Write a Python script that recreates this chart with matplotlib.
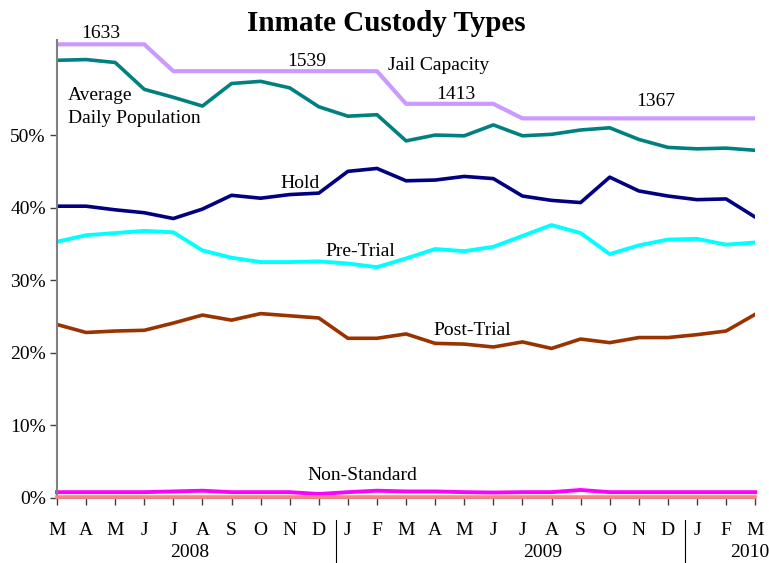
import numpy as np
import matplotlib.pyplot as plt
import matplotlib.transforms as mtransforms

plt.rcParams['font.family'] = ['Liberation Serif', 'DejaVu Serif']

months = ['M', 'A', 'M', 'J', 'J', 'A', 'S', 'O', 'N', 'D',
          'J', 'F', 'M', 'A', 'M', 'J', 'J', 'A', 'S', 'O', 'N', 'D',
          'J', 'F', 'M']
years = ['2008', '2009', '2010']
year_pos = [4.57, 16.7, 23.83]
year_breaks = [9.6, 21.6]

# jail capacity, scaled to the % axis
capacity = [62.5, 62.5, 62.5, 62.5, 58.8, 58.8, 58.8, 58.8, 58.8, 58.8, 58.8, 58.8,
            54.3, 54.3, 54.3, 54.3, 52.3, 52.3, 52.3, 52.3, 52.3, 52.3, 52.3, 52.3, 52.3]
capacity_labels = ['1633', '1539', '1413', '1367']
adp = [60.3, 60.4, 60.0, 56.3, 55.2, 54.0, 57.1, 57.4, 56.5, 53.9, 52.6, 52.8,
       49.2, 50.0, 49.9, 51.4, 49.9, 50.1, 50.7, 51.0, 49.4, 48.3, 48.1, 48.2, 47.9]
hold = [40.2, 40.2, 39.7, 39.3, 38.5, 39.8, 41.7, 41.3, 41.8, 42.0, 45.0, 45.4,
        43.7, 43.8, 44.3, 44.0, 41.6, 41.0, 40.7, 44.2, 42.3, 41.6, 41.1, 41.2, 38.7]
pre_trial = [35.3, 36.2, 36.5, 36.8, 36.6, 34.1, 33.1, 32.5, 32.5, 32.6, 32.3, 31.8,
             33.0, 34.3, 34.0, 34.6, 36.1, 37.6, 36.5, 33.6, 34.8, 35.6, 35.7, 34.9, 35.2]
post_trial = [23.9, 22.8, 23.0, 23.1, 24.1, 25.2, 24.5, 25.4, 25.1, 24.8, 22.0, 22.0,
              22.6, 21.3, 21.2, 20.8, 21.5, 20.6, 21.9, 21.4, 22.1, 22.1, 22.5, 23.0, 25.3]
non_standard = [0.8, 0.8, 0.8, 0.8, 0.9, 1.0, 0.8, 0.8, 0.8, 0.55, 0.8, 1.0,
                0.9, 0.9, 0.8, 0.75, 0.8, 0.8, 1.1, 0.8, 0.8, 0.8, 0.8, 0.8, 0.8]
other = [0.15] * 25

x = np.arange(len(months))

fig = plt.figure(figsize=(7.69, 5.63), dpi=100)
ax = fig.add_axes([0.0741, 0.1155, 0.9079, 0.8135])

ax.plot(x, other, color='#FF8080', lw=2.6, clip_on=False, zorder=3)
ax.plot(x, non_standard, color='#FF00FF', lw=2.8, clip_on=False)
ax.plot(x, post_trial, color='#993300', lw=2.6)
ax.plot(x, pre_trial, color='#00FFFF', lw=2.8)
ax.plot(x, hold, color='#000080', lw=2.6)
ax.plot(x, adp, color='#008080', lw=2.6)
ax.plot(x, capacity, color='#CC99FF', lw=3.0)

ax.set_xlim(0, 24)
ax.set_ylim(0, 63.1)
ax.set_yticks([0, 10, 20, 30, 40, 50])
ax.set_yticklabels(['0%', '10%', '20%', '30%', '40%', '50%'], fontsize=14)
ax.set_xticks(x)
ax.set_xticklabels(months, fontsize=14)
ax.tick_params(axis='x', length=5, width=1, color='#404040', pad=12)
ax.tick_params(axis='y', length=5, width=1, color='#404040', pad=3)

for s in ['top', 'right']:
    ax.spines[s].set_visible(False)
ax.spines['left'].set_color('#808080')
ax.spines['left'].set_linewidth(1.5)
ax.spines['bottom'].set_color('#808080')

trans = mtransforms.blended_transform_factory(ax.transData, ax.transAxes)
for xb in year_breaks:
    ax.plot([xb, xb], [-0.048, -0.15], color='black', lw=0.8,
            transform=trans, clip_on=False)
for yr, xp in zip(years, year_pos):
    ax.text(xp, -0.12, yr, transform=trans, ha='center', va='center', fontsize=14)

fs = 14
ax.text(1.51, 64.0, capacity_labels[0], ha='center', va='center', fontsize=fs, clip_on=False)
ax.text(8.6, 60.1, capacity_labels[1], ha='center', va='center', fontsize=fs)
ax.text(13.7, 55.6, capacity_labels[2], ha='center', va='center', fontsize=fs)
ax.text(20.6, 54.6, capacity_labels[3], ha='center', va='center', fontsize=fs)
ax.text(11.38, 59.6, 'Jail Capacity', ha='left', va='center', fontsize=fs)
ax.text(0.38, 53.85, 'Average\nDaily Population', ha='left', va='center',
        fontsize=fs, linespacing=1.5)
ax.text(8.36, 43.3, 'Hold', ha='center', va='center', fontsize=fs)
ax.text(10.42, 34.0, 'Pre-Trial', ha='center', va='center', fontsize=fs)
ax.text(14.27, 23.1, 'Post-Trial', ha='center', va='center', fontsize=fs)
ax.text(10.49, 3.1, 'Non-Standard', ha='center', va='center', fontsize=fs)

fig.text(0.503, 0.958, 'Inmate Custody Types', ha='center', va='center',
         fontsize=21, fontweight='bold')

fig.savefig('out.png', dpi=100)
